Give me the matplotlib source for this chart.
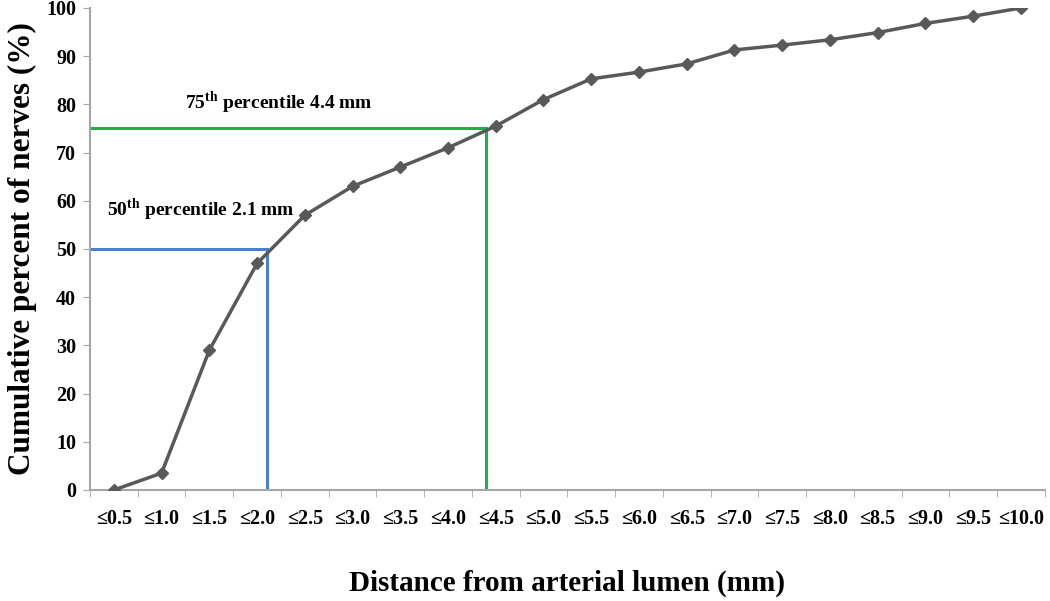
import numpy as np
import matplotlib
matplotlib.use("Agg")
import matplotlib.pyplot as plt

# distance bins (mm) and cumulative percent of nerves
bins = [0.5, 1.0, 1.5, 2.0, 2.5, 3.0, 3.5, 4.0, 4.5, 5.0,
        5.5, 6.0, 6.5, 7.0, 7.5, 8.0, 8.5, 9.0, 9.5, 10.0]
cum_pct = [0, 3.5, 29, 47, 57, 63, 67, 71, 75.5, 81,
           85.3, 86.7, 88.4, 91.3, 92.3, 93.4, 94.9, 96.8, 98.3, 100]
tick_labels = ["≤%.1f" % b for b in bins]

# percentile markers: (percentile, distance mm)
p50 = (50, 2.1)
p75 = (75, 4.4)

plt.rcParams['font.family'] = ['Liberation Serif', 'DejaVu Serif']
plt.rcParams['font.weight'] = 'bold'
plt.rcParams['mathtext.fontset'] = 'custom'
plt.rcParams['mathtext.rm'] = 'Liberation Serif:bold'
plt.rcParams['mathtext.bf'] = 'Liberation Serif:bold'


def to_cat(mm):
    # category axis: bin "≤b" sits at index b/0.5 - 1
    return mm / 0.5 - 1


fig = plt.figure(figsize=(10.5, 6.01), dpi=100)
ax = fig.add_axes([0.0857, 0.1847, 0.9093, 0.802])

x = np.arange(len(bins))
ax.plot(x, cum_pct, color="#595959", lw=2.5, marker="D", markersize=6,
        zorder=3)

# 50th percentile (blue)
x50 = to_cat(p50[1])
ax.plot([-0.5, x50], [p50[0], p50[0]], color="#4a7fd4", lw=2.2, zorder=2)
ax.plot([x50, x50], [0, p50[0]], color="#4a7fd4", lw=2.2, zorder=2)
# 75th percentile (green)
x75 = to_cat(p75[1])
ax.plot([-0.5, x75], [p75[0], p75[0]], color="#1db14b", lw=2.2, zorder=2)
ax.plot([x75, x75], [0, p75[0]], color="#1db14b", lw=2.2, zorder=2)

ax.text(-0.14, 58.1, r"50$^{\mathrm{th}}$ percentile 2.1 mm", fontsize=14,
        fontweight='bold', va='center')
ax.text(1.49, 80.3, r"75$^{\mathrm{th}}$ percentile 4.4 mm", fontsize=14,
        fontweight='bold', va='center')

ax.set_xlim(-0.5, len(bins) - 0.5)
ax.set_ylim(0, 100)
ax.set_yticks(np.arange(0, 101, 10))
ax.set_xticks(x)
ax.set_xticklabels(tick_labels)
ax.set_xticks(np.arange(-0.5, len(bins)), minor=True)
ax.tick_params(axis='x', which='major', length=0, pad=14, labelsize=14.5)
ax.tick_params(axis='x', which='minor', length=5, color="#a6a6a6",
               direction='out')
ax.tick_params(axis='y', length=5, color="#a6a6a6", labelsize=14.5, pad=5)
for lab in ax.get_xticklabels() + ax.get_yticklabels():
    lab.set_fontweight('bold')

for s in ['top', 'right']:
    ax.spines[s].set_visible(False)
for s in ['left', 'bottom']:
    ax.spines[s].set_color("#a6a6a6")
    ax.spines[s].set_linewidth(1.5)

ax.set_ylabel("Cumulative percent of nerves (%)", fontsize=22.5,
              fontweight='bold')
ax.yaxis.set_label_coords(-0.056, 0.5)
ax.set_xlabel("Distance from arterial lumen (mm)", fontsize=21,
              fontweight='bold')
ax.xaxis.set_label_coords(0.5, -0.166)

fig.savefig("out.png", dpi=100)
